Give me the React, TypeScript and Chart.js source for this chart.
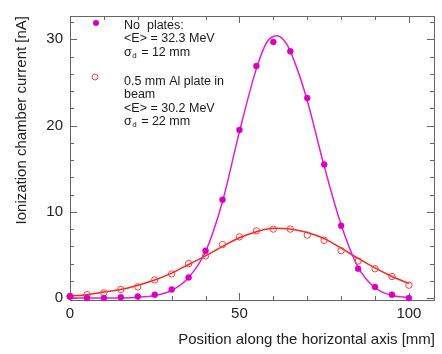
import { useEffect, useRef } from "react";
import { Chart, registerables } from "chart.js";

Chart.register(...registerables);

// ---- data ----
const positionsMm = [0, 5, 10, 15, 20, 25, 30, 35, 40, 45, 50, 55, 60, 65, 70, 75, 80, 85, 90, 95, 100];
const noPlatesNA = [0.2, 0.0, 0.0, 0.1, 0.2, 0.4, 1.0, 2.4, 5.5, 11.4, 19.5, 26.9, 29.7, 28.6, 23.2, 15.5, 8.4, 3.4, 1.3, 0.4, 0.0];
const alPlateNA = [0.2, 0.4, 0.6, 1.0, 1.3, 2.1, 2.8, 4.0, 4.9, 6.2, 7.1, 7.8, 8.0, 8.0, 7.3, 6.7, 5.5, 4.3, 3.4, 2.5, 1.5];
// fitted curves
const noPlatesFitX = [0, 10, 20, 25, 30, 35, 40, 45, 50, 55, 58, 61, 64, 67, 70, 75, 80, 85, 90, 95, 100];
const noPlatesFitY = [0.0, 0.0, 0.1, 0.3, 0.9, 2.4, 5.4, 11.2, 19.3, 26.6, 29.6, 30.4, 29.4, 26.6, 22.9, 15.3, 8.5, 3.6, 1.2, 0.3, 0.1];
const alPlateFitX = [0, 5, 10, 15, 20, 25, 30, 35, 40, 45, 50, 55, 60, 65, 70, 75, 80, 85, 90, 95, 100];
const alPlateFitY = [0.25, 0.4, 0.7, 1.0, 1.5, 2.1, 2.9, 3.9, 4.9, 6.0, 7.0, 7.7, 8.1, 8.0, 7.6, 6.9, 5.8, 4.6, 3.5, 2.5, 1.7];
const xTickValues = [0, 50, 100];
const yTickValues = [0, 10, 20, 30];
const legendNoPlates = ["No  plates:", "<E> = 32.3 MeV", "σ|d| = 12 mm"];
const legendAlPlate = ["0.5 mm Al plate in", "beam", "<E> = 30.2 MeV", "σ|d| = 22 mm"];

const FONT = "'Liberation Sans', Arial, Helvetica, sans-serif";
const MAGENTA_PT = "#d800bc";
const MAGENTA_LN = "#e21ed2";
const RED_LN = "#ff2418";
const RED_PT = "#ff3a3a";

const framePlugin = {
  id: "frameTicks",
  beforeDatasetsDraw(chart: any) {
    const { ctx, chartArea: a, scales } = chart;
    const x = scales.x;
    const y = scales.y;
    ctx.save();
    ctx.strokeStyle = "#666";
    ctx.lineWidth = 1;
    ctx.strokeRect(a.left + 0.5, a.top + 0.5, a.right - a.left - 1, a.bottom - a.top);
    ctx.beginPath();
    for (let v = 0; v <= 100; v += 10) {
      const len = v % 50 === 0 ? 7 : 4;
      const px = Math.round(x.getPixelForValue(v)) + 0.5;
      ctx.moveTo(px, a.bottom);
      ctx.lineTo(px, a.bottom - len);
      ctx.moveTo(px, a.top);
      ctx.lineTo(px, a.top + len);
    }
    for (let v = 0; v <= 32; v += 2) {
      const len = v % 10 === 0 ? 7 : 4;
      const py = Math.round(y.getPixelForValue(v)) + 0.5;
      ctx.moveTo(a.left, py);
      ctx.lineTo(a.left + len, py);
      ctx.moveTo(a.right - 1, py);
      ctx.lineTo(a.right - 1 - len, py);
    }
    ctx.stroke();
    ctx.restore();
  },
};

function drawLegendLine(ctx: CanvasRenderingContext2D, text: string, x: number, y: number) {
  const parts = text.split("|");
  ctx.font = `12.5px ${FONT}`;
  if (parts.length === 1) {
    ctx.fillText(text, x, y);
    return;
  }
  ctx.fillText(parts[0], x, y);
  let cx = x + ctx.measureText(parts[0]).width;
  ctx.font = `8px ${FONT}`;
  ctx.fillText(parts[1], cx + 0.5, y + 3);
  cx += ctx.measureText(parts[1]).width + 1.5;
  ctx.font = `12.5px ${FONT}`;
  ctx.fillText(parts[2], cx, y);
}

const legendPlugin = {
  id: "customLegend",
  afterDraw(chart: any) {
    const { ctx } = chart;
    ctx.save();
    ctx.fillStyle = MAGENTA_PT;
    ctx.beginPath();
    ctx.arc(96, 23, 3, 0, Math.PI * 2);
    ctx.fill();
    ctx.strokeStyle = RED_PT;
    ctx.lineWidth = 1;
    ctx.beginPath();
    ctx.arc(95, 77, 3, 0, Math.PI * 2);
    ctx.stroke();
    ctx.fillStyle = "#1a1a1a";
    ctx.textBaseline = "middle";
    ctx.textAlign = "left";
    legendNoPlates.forEach((t, i) => drawLegendLine(ctx, t, 124, 25.5 + i * 13.5));
    legendAlPlate.forEach((t, i) => drawLegendLine(ctx, t, 124, 81.5 + i * 13.4));
    ctx.restore();
  },
};

export default function App() {
  const ref = useRef<HTMLCanvasElement | null>(null);
  useEffect(() => {
    if (!ref.current) return;
    const chart = new Chart(ref.current, {
      type: "line",
      data: {
        datasets: [
          {
            label: "No plates",
            data: positionsMm.map((p, i) => ({ x: p, y: noPlatesNA[i] })),
            showLine: false,
            pointBackgroundColor: MAGENTA_PT,
            pointBorderColor: MAGENTA_PT,
            pointRadius: 3,
            pointBorderWidth: 0.5,
            clip: false as any,
            order: 0,
          },
          {
            label: "0.5 mm Al plate in beam",
            data: positionsMm.map((p, i) => ({ x: p, y: alPlateNA[i] })),
            showLine: false,
            pointBackgroundColor: "rgba(255,255,255,0)",
            pointBorderColor: RED_PT,
            pointRadius: 3.2,
            pointBorderWidth: 1,
            clip: false as any,
            order: 1,
          },
          {
            label: "No plates fit",
            data: noPlatesFitX.map((p, i) => ({ x: p, y: noPlatesFitY[i] })),
            borderColor: MAGENTA_LN,
            borderWidth: 1.5,
            pointRadius: 0,
            cubicInterpolationMode: "monotone",
            clip: false as any,
            order: 2,
          },
          {
            label: "Al plate fit",
            data: alPlateFitX.map((p, i) => ({ x: p, y: alPlateFitY[i] })),
            borderColor: RED_LN,
            borderWidth: 1.5,
            pointRadius: 0,
            cubicInterpolationMode: "monotone",
            clip: false as any,
            order: 3,
          },
        ],
      },
      options: {
        responsive: false,
        animation: false,
        devicePixelRatio: 1,
        layout: { padding: { left: 0, right: 7, top: 7, bottom: 0 } },
        plugins: { legend: { display: false }, tooltip: { enabled: false } },
        scales: {
          x: {
            type: "linear",
            min: 0,
            max: 107.7,
            grid: { display: false, drawTicks: false },
            border: { display: false },
            afterBuildTicks: (s: any) => {
              s.ticks = xTickValues.map((v) => ({ value: v }));
            },
            afterFit: (s: any) => {
              s.height = 54;
            },
            ticks: {
              color: "#222",
              padding: 5,
              maxRotation: 0,
              font: { family: FONT, size: 15 },
            },
            title: {
              display: true,
              text: "Position along the horizontal axis [mm]",
              align: "end",
              color: "#222",
              font: { family: FONT, size: 15 },
              padding: { top: 0, bottom: 5 },
            },
          },
          y: {
            type: "linear",
            min: -0.22,
            max: 32.7,
            grid: { display: false, drawTicks: false },
            border: { display: false },
            afterBuildTicks: (s: any) => {
              s.ticks = yTickValues.map((v) => ({ value: v }));
            },
            afterFit: (s: any) => {
              s.width = 70;
            },
            ticks: {
              color: "#222",
              padding: 7,
              font: { family: FONT, size: 15 },
            },
            title: {
              display: true,
              text: "Ionization chamber current [nA]",
              align: "end",
              color: "#222",
              font: { family: FONT, size: 15 },
              padding: { top: 13, bottom: 0 },
            },
          },
        },
      },
      plugins: [framePlugin, legendPlugin],
    });
    return () => chart.destroy();
  }, []);
  return (
    <div style={{ position: "fixed", left: 0, top: 0, width: 442, height: 354, background: "#fff" }}>
      <canvas ref={ref} width={442} height={354} />
    </div>
  );
}
